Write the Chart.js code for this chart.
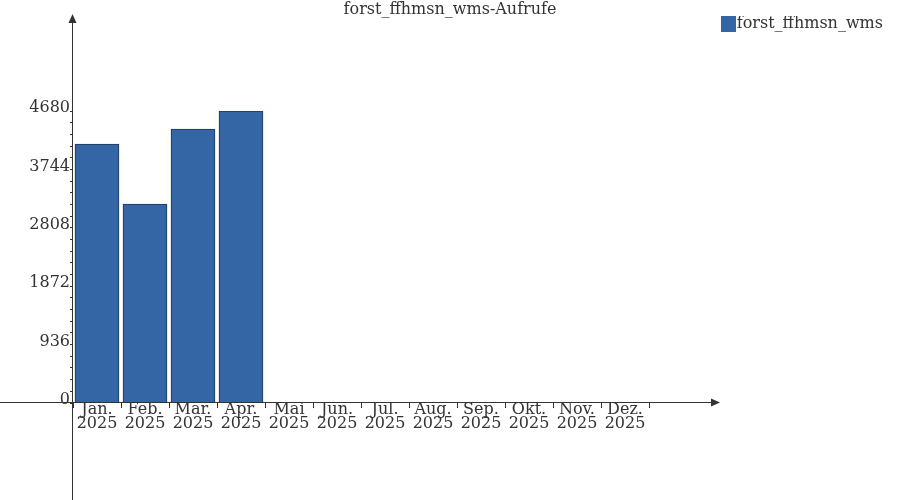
<!DOCTYPE html>
<html>
<head>
<meta charset="utf-8">
<title>forst_ffhmsn_wms-Aufrufe</title>
<script src="https://cdn.jsdelivr.net/npm/chart.js@4/dist/chart.umd.min.js"></script>
<style>
  html, body { margin: 0; padding: 0; background: #fff; }
  #chart { display: block; }
</style>
</head>
<body>
<canvas id="chart" width="900" height="500"></canvas>
<script>
const months = ["Jan.", "Feb.", "Mär.", "Apr.", "Mai", "Jun.", "Jul.", "Aug.", "Sep.", "Okt.", "Nov.", "Dez."];
const year = "2025";
const calls = [4150, 3190, 4391, 4680, 0, 0, 0, 0, 0, 0, 0, 0];
const yLabels = [0, 936, 1872, 2808, 3744, 4680];
const minorPerStep = 5;

const font = "'DejaVu Serif', 'Liberation Serif', serif";
const textColor = "#333333";
const axisColor = "#333333";
const barColor = "#3465a4";

// minor ticks between the labelled ones
const yTicks = [];
yLabels.forEach((v, i) => {
  yTicks.push(v);
  if (i < yLabels.length - 1) {
    const step = (yLabels[i + 1] - v) / minorPerStep;
    for (let k = 1; k < minorPerStep; k++) yTicks.push(v + step * k);
  }
});

// legend swatch sits right against its text, so use a small canvas as point style
const swatch = document.createElement("canvas");
swatch.width = 15;
swatch.height = 16;
const sctx = swatch.getContext("2d");
sctx.fillStyle = barColor;
sctx.fillRect(0, 0, 15, 16);

// axis lines crossing at the origin, with arrow heads
const axisArrows = {
  id: "axisArrows",
  afterDraw(chart) {
    const { ctx, chartArea, scales } = chart;
    const x0 = Math.round(chartArea.left) - 0.5;
    const y0 = Math.round(scales.y.getPixelForValue(0)) - 0.5;
    const xEnd = 720;
    const yTop = 14;
    ctx.save();
    ctx.strokeStyle = axisColor;
    ctx.fillStyle = axisColor;
    ctx.lineWidth = 1;
    ctx.beginPath();
    ctx.moveTo(0, y0);
    ctx.lineTo(xEnd - 6, y0);
    ctx.moveTo(x0, chart.height);
    ctx.lineTo(x0, yTop + 6);
    ctx.stroke();

    ctx.beginPath();
    ctx.moveTo(xEnd, y0);
    ctx.lineTo(xEnd - 9, y0 - 4);
    ctx.lineTo(xEnd - 9, y0 + 4);
    ctx.closePath();
    ctx.fill();

    ctx.beginPath();
    ctx.moveTo(x0, yTop);
    ctx.lineTo(x0 - 4, yTop + 9);
    ctx.lineTo(x0 + 4, yTop + 9);
    ctx.closePath();
    ctx.fill();
    ctx.restore();
  },
};

new Chart(document.getElementById("chart"), {
  type: "bar",
  data: {
    labels: months.map((m) => [m, year]),
    datasets: [
      {
        label: "forst_ffhmsn_wms",
        data: calls,
        backgroundColor: barColor,
        borderColor: "#1c3457",
        borderWidth: 1,
        borderSkipped: false,
        barThickness: 44,
      },
    ],
  },
  options: {
    responsive: false,
    animation: false,
    layout: { padding: { left: 17, right: 17, top: 0, bottom: 0 } },
    plugins: {
      title: {
        display: true,
        text: "forst_ffhmsn_wms-Aufrufe",
        color: textColor,
        font: { family: font, size: 16, weight: "normal", lineHeight: 1 },
        padding: { top: 1.5, bottom: -1.5 },
      },
      legend: {
        display: true,
        position: "top",
        align: "end",
        labels: {
          color: textColor,
          font: { family: font, size: 16 },
          usePointStyle: true,
          pointStyle: swatch,
          pointStyleWidth: 1,
          boxHeight: 15,
          padding: 0,
        },
      },
      tooltip: { enabled: false },
    },
    scales: {
      x: {
        type: "category",
        position: "bottom",
        border: { display: false },
        grid: {
          display: true,
          drawOnChartArea: false,
          drawTicks: true,
          tickLength: 5,
          color: axisColor,
          offset: true,
        },
        ticks: {
          color: textColor,
          font: { family: font, size: 16, lineHeight: 0.875 },
          padding: -5,
          maxRotation: 0,
          autoSkip: false,
        },
        afterFit: (s) => { s.height = 97; },
      },
      y: {
        type: "linear",
        position: "left",
        min: 0,
        max: yLabels[yLabels.length - 1],
        border: { display: false },
        grid: {
          display: true,
          drawOnChartArea: false,
          drawTicks: true,
          tickLength: 3,
          color: axisColor,
        },
        ticks: {
          color: textColor,
          font: { family: font, size: 16 },
          padding: 0,
          autoSkip: false,
          labelOffset: -3,
          callback: (v) => (yLabels.includes(v) ? String(v) : ""),
        },
        afterBuildTicks: (s) => {
          s.ticks = yTicks.map((v) => ({ value: v }));
        },
        afterFit: (s) => { s.width = 56; },
      },
      top: {
        type: "linear",
        position: "top",
        display: true,
        border: { display: false },
        grid: { display: false },
        ticks: { display: false },
        afterFit: (s) => { s.height = 69; },
      },
      right: {
        type: "linear",
        position: "right",
        display: true,
        border: { display: false },
        grid: { display: false },
        ticks: { display: false },
        afterFit: (s) => { s.width = 234; },
      },
    },
  },
  plugins: [axisArrows],
});
</script>
</body>
</html>
